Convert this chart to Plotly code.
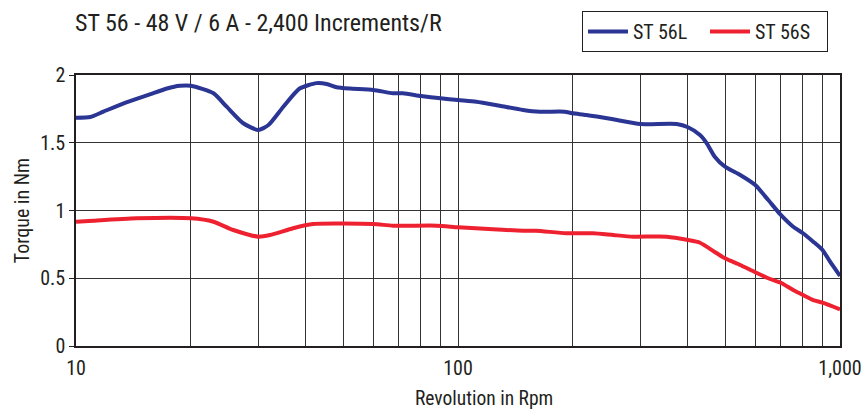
import plotly.graph_objects as go

rpm_l = [10, 10.9, 11.8, 13.6, 15.6, 17.3, 18.7, 20, 22.9, 24.8, 27.4, 30, 31.9, 34.9, 38.5,
         42.6, 45.3, 48.1, 52.1, 60, 67.6, 71.8, 80, 90, 100, 111.7, 128.6, 148, 163.7, 190,
         200, 216.7, 254.8, 300, 373.6, 400, 430, 448, 470, 500, 548, 600, 649, 700, 754,
         800, 851, 900, 942, 1000]
torque_l = [1.685, 1.69, 1.73, 1.80, 1.857, 1.90, 1.92, 1.92, 1.865, 1.766, 1.644, 1.594, 1.631,
            1.766, 1.90, 1.94, 1.934, 1.91, 1.90, 1.89, 1.865, 1.865, 1.845, 1.828, 1.815, 1.803,
            1.773, 1.742, 1.729, 1.729, 1.717, 1.705, 1.673, 1.638, 1.638, 1.614, 1.557, 1.496,
            1.397, 1.323, 1.262, 1.188, 1.077, 0.967, 0.880, 0.832, 0.770, 0.709, 0.622, 0.517]

rpm_s = [10, 11.1, 14.4, 20, 22.9, 25.8, 30, 32.2, 37.0, 41.7, 60, 67.6, 88, 100, 123.5, 148,
         160, 192, 226, 255, 287, 352, 400, 430, 476, 500, 548, 600, 649, 700, 754, 800, 851,
         900, 1000]
torque_s = [0.917, 0.925, 0.942, 0.942, 0.917, 0.856, 0.807, 0.819, 0.869, 0.900, 0.900, 0.888,
            0.888, 0.876, 0.861, 0.851, 0.851, 0.832, 0.832, 0.819, 0.807, 0.807, 0.782, 0.762,
            0.684, 0.647, 0.598, 0.544, 0.500, 0.467, 0.413, 0.376, 0.339, 0.320, 0.271]

x_tickvals = [10, 20, 30, 40, 50, 60, 70, 80, 90, 100, 200, 300, 400, 500, 600, 700, 800, 900, 1000]
x_ticktext = ["10", "", "", "", "", "", "", "", "", "100", "", "", "", "", "", "", "", "", "1,000"]
y_tickvals = [0, 0.5, 1, 1.5, 2]
y_ticktext = ["0", "0.5", "1", "1.5", "2"]

FONT = "Liberation Sans Narrow, Arial Narrow, Roboto Condensed, Roboto, sans-serif"
TXT = "#231F20"

fig = go.Figure()
fig.add_trace(go.Scatter(x=rpm_l, y=torque_l, name="ST 56L", mode="lines",
                         line=dict(color="#2B3593", width=4, shape="spline", smoothing=0.6)))
fig.add_trace(go.Scatter(x=rpm_s, y=torque_s, name="ST 56S", mode="lines",
                         line=dict(color="#EE2130", width=4, shape="spline", smoothing=0.6)))

fig.update_layout(
    width=866, height=410,
    margin=dict(l=76, r=26, t=75, b=64, autoexpand=False),
    paper_bgcolor="white", plot_bgcolor="white",
    font=dict(family=FONT, color=TXT, size=20),
    title=dict(text="ST 56 - 48 V / 6 A - 2,400 Increments/R", x=75 / 866, xanchor="left",
               y=1 - 23 / 410, yanchor="middle", font=dict(size=24, family=FONT, color=TXT)),
    legend=dict(orientation="h", x=(582 - 76) / 764, xanchor="left", y=(346 - 11) / 271,
                yanchor="top", bordercolor="#231F20", borderwidth=1, bgcolor="white",
                font=dict(size=20, family=FONT, color=TXT), entrywidth=67, itemwidth=40,
                entrywidthmode="pixels", tracegroupgap=0),
    showlegend=True,
)
fig.update_xaxes(type="log", range=[1, 3], tickvals=x_tickvals, ticktext=x_ticktext,
                 showgrid=True, gridcolor="#333333", gridwidth=1, ticks="",
                 showline=True, linecolor="#231F20", linewidth=1.5, mirror=True,
                 tickfont=dict(size=20), zeroline=False, ticklabelstandoff=3)
fig.update_yaxes(range=[0, 2], tickvals=y_tickvals, ticktext=y_ticktext,
                 showgrid=True, gridcolor="#333333", gridwidth=1, ticks="outside",
                 ticklen=5, tickcolor="#231F20", showline=True, linecolor="#231F20",
                 linewidth=1.5, mirror=True, tickfont=dict(size=20), zeroline=False,
                 title=dict(text="Torque in Nm", font=dict(size=20), standoff=5))
fig.add_annotation(text="Revolution in Rpm", xref="paper", yref="paper",
                   x=(484 - 76) / 764, y=(346 - 398) / 271, xanchor="center", yanchor="middle",
                   showarrow=False, font=dict(size=19.5, family=FONT, color=TXT))

fig.write_html("out.html", config={"displayModeBar": False},
               post_script="document.body.style.margin='0px';document.body.style.padding='0px';"
                           "document.body.style.overflow='hidden';")
